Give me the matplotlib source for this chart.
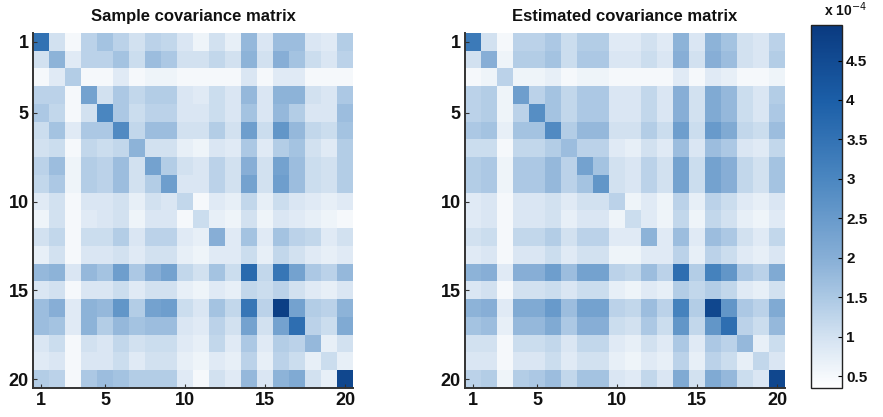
# SAMPLE vs ESTIMATED COVARIANCE MATRIX
# -------------------------------------------------------------------------

import numpy as np
import matplotlib
matplotlib.use('Agg')
import matplotlib.pyplot as plt
from matplotlib.colors import LinearSegmentedColormap


# DATA (values in units of 1e-4)
# -------------------------------------------------------------------------

sample_cov = [
    [3.5, 1.0, 0.5, 1.3, 1.6, 1.3, 1.0, 1.3, 1.2, 0.9, 0.6, 1.0, 0.7, 1.8, 0.9, 1.7, 1.7, 0.9, 0.8, 1.4],
    [1.0, 1.9, 0.8, 1.3, 1.3, 1.6, 1.1, 1.7, 1.5, 1.0, 1.0, 1.2, 1.0, 1.9, 1.0, 2.0, 1.6, 1.1, 0.9, 1.3],
    [0.5, 0.8, 1.4, 0.5, 0.5, 0.8, 0.5, 0.6, 0.6, 0.5, 0.5, 0.5, 0.5, 0.9, 0.5, 0.8, 0.8, 0.5, 0.5, 0.5],
    [1.3, 1.3, 0.5, 2.3, 1.0, 1.5, 1.2, 1.4, 1.4, 0.9, 0.8, 1.1, 0.9, 1.8, 0.9, 1.9, 1.9, 1.0, 0.9, 1.5],
    [1.5, 1.2, 0.5, 1.0, 3.0, 1.5, 1.1, 1.3, 1.3, 0.9, 0.9, 1.1, 0.9, 1.6, 0.9, 1.8, 1.4, 0.9, 0.9, 1.7],
    [1.1, 1.6, 0.8, 1.5, 1.5, 2.9, 1.2, 1.7, 1.7, 1.0, 1.0, 1.4, 1.0, 2.4, 1.1, 2.6, 1.8, 1.2, 1.1, 1.6],
    [1.0, 1.1, 0.5, 1.2, 1.1, 1.2, 1.9, 1.0, 1.0, 0.7, 0.6, 0.9, 0.8, 1.5, 0.8, 1.4, 1.6, 1.0, 0.8, 1.4],
    [1.3, 1.7, 0.6, 1.4, 1.3, 1.7, 1.0, 2.3, 1.4, 1.0, 0.9, 1.3, 1.0, 2.0, 1.0, 2.3, 1.7, 1.1, 1.0, 1.4],
    [1.2, 1.5, 0.6, 1.4, 1.3, 1.7, 1.0, 1.4, 2.4, 0.9, 0.9, 1.3, 1.0, 2.3, 1.0, 2.4, 1.7, 1.1, 1.0, 1.4],
    [0.8, 1.0, 0.5, 0.9, 0.9, 1.0, 0.7, 1.0, 0.9, 1.2, 0.5, 0.8, 0.7, 1.2, 0.7, 1.1, 0.9, 0.8, 0.7, 0.8],
    [0.6, 1.0, 0.5, 0.8, 0.9, 1.0, 0.6, 0.9, 0.9, 0.5, 1.1, 0.7, 0.6, 1.0, 0.6, 0.9, 0.8, 0.7, 0.6, 0.5],
    [1.0, 1.2, 0.5, 1.1, 1.1, 1.4, 0.9, 1.3, 1.3, 0.8, 0.7, 2.0, 0.8, 1.6, 0.8, 1.6, 1.3, 1.2, 0.8, 1.0],
    [0.7, 1.0, 0.5, 0.9, 0.9, 1.0, 0.8, 1.0, 1.0, 0.7, 0.6, 0.8, 0.8, 1.1, 0.7, 1.2, 1.0, 0.8, 0.7, 0.8],
    [1.8, 1.9, 0.9, 1.8, 1.6, 2.4, 1.5, 2.0, 2.3, 1.2, 1.0, 1.6, 1.1, 3.7, 1.2, 3.4, 2.3, 1.5, 1.3, 1.8],
    [0.9, 1.0, 0.5, 0.9, 0.9, 1.1, 0.8, 1.0, 1.0, 0.7, 0.6, 0.8, 0.7, 1.2, 1.1, 1.3, 1.0, 0.8, 0.7, 0.9],
    [1.7, 2.0, 0.8, 1.9, 1.8, 2.6, 1.4, 2.3, 2.4, 1.1, 0.9, 1.6, 1.2, 3.4, 1.3, 4.8, 2.3, 1.4, 1.3, 1.9],
    [1.7, 1.6, 0.8, 1.9, 1.4, 1.8, 1.6, 1.7, 1.7, 0.9, 0.8, 1.3, 1.0, 2.3, 1.0, 2.3, 3.6, 1.3, 1.1, 2.1],
    [0.9, 1.1, 0.5, 1.0, 0.9, 1.2, 1.0, 1.1, 1.1, 0.8, 0.7, 1.2, 0.8, 1.5, 0.8, 1.4, 1.3, 1.8, 0.7, 1.0],
    [0.8, 0.9, 0.5, 0.9, 0.9, 1.1, 0.8, 1.0, 1.0, 0.7, 0.6, 0.8, 0.7, 1.3, 0.7, 1.3, 1.1, 0.7, 1.1, 0.7],
    [1.4, 1.3, 0.5, 1.5, 1.7, 1.6, 1.4, 1.4, 1.4, 0.8, 0.5, 1.0, 0.8, 1.8, 0.9, 1.9, 2.1, 1.0, 0.7, 4.6],
]

estimated_cov = [
    [3.3, 1.0, 0.5, 1.3, 1.3, 1.5, 1.1, 1.4, 1.4, 0.8, 0.8, 1.0, 0.8, 1.9, 0.9, 1.9, 1.6, 1.0, 0.9, 1.3],
    [1.0, 2.0, 0.6, 1.4, 1.4, 1.6, 1.1, 1.5, 1.5, 0.9, 0.9, 1.1, 0.9, 2.0, 1.0, 2.0, 1.7, 1.0, 0.9, 1.4],
    [0.5, 0.6, 1.3, 0.6, 0.6, 0.7, 0.5, 0.6, 0.6, 0.5, 0.5, 0.5, 0.5, 0.8, 0.5, 0.8, 0.7, 0.5, 0.5, 0.6],
    [1.3, 1.4, 0.6, 2.4, 1.3, 1.6, 1.2, 1.5, 1.5, 0.9, 0.9, 1.2, 0.9, 2.0, 1.0, 2.1, 1.8, 1.1, 0.9, 1.4],
    [1.3, 1.4, 0.6, 1.3, 2.8, 1.6, 1.2, 1.5, 1.5, 0.9, 0.9, 1.2, 0.9, 2.0, 1.0, 2.1, 1.8, 1.1, 0.9, 1.5],
    [1.5, 1.6, 0.7, 1.6, 1.6, 2.9, 1.4, 1.8, 1.8, 1.0, 1.0, 1.4, 1.1, 2.4, 1.1, 2.5, 2.1, 1.2, 1.1, 1.7],
    [1.1, 1.1, 0.5, 1.2, 1.2, 1.4, 1.7, 1.3, 1.3, 0.8, 0.7, 1.0, 0.8, 1.7, 0.9, 1.7, 1.5, 0.9, 0.8, 1.2],
    [1.4, 1.5, 0.6, 1.5, 1.5, 1.8, 1.3, 2.3, 1.6, 1.0, 0.9, 1.3, 1.0, 2.3, 1.1, 2.3, 2.0, 1.2, 1.0, 1.6],
    [1.4, 1.5, 0.6, 1.5, 1.5, 1.8, 1.3, 1.6, 2.6, 1.0, 0.9, 1.3, 1.0, 2.3, 1.1, 2.3, 2.0, 1.2, 1.0, 1.6],
    [0.8, 0.9, 0.5, 0.9, 0.9, 1.0, 0.8, 1.0, 1.0, 1.3, 0.6, 0.8, 0.6, 1.3, 0.7, 1.3, 1.1, 0.8, 0.7, 0.9],
    [0.8, 0.9, 0.5, 0.9, 0.9, 1.0, 0.7, 0.9, 0.9, 0.6, 1.1, 0.8, 0.6, 1.2, 0.6, 1.2, 1.0, 0.7, 0.6, 0.8],
    [1.0, 1.1, 0.5, 1.2, 1.2, 1.4, 1.0, 1.3, 1.3, 0.8, 0.8, 1.9, 0.8, 1.7, 0.8, 1.7, 1.5, 1.0, 0.8, 1.2],
    [0.8, 0.9, 0.5, 0.9, 0.9, 1.1, 0.8, 1.0, 1.0, 0.6, 0.6, 0.8, 0.8, 1.3, 0.7, 1.3, 1.1, 0.8, 0.7, 0.9],
    [1.9, 2.0, 0.8, 2.0, 2.0, 2.4, 1.7, 2.3, 2.3, 1.3, 1.2, 1.7, 1.3, 3.6, 1.4, 3.1, 2.6, 1.5, 1.3, 2.1],
    [0.9, 1.0, 0.5, 1.0, 1.0, 1.1, 0.9, 1.1, 1.1, 0.7, 0.6, 0.8, 0.7, 1.4, 1.2, 1.4, 1.2, 0.8, 0.7, 1.0],
    [1.9, 2.0, 0.8, 2.1, 2.1, 2.5, 1.7, 2.3, 2.3, 1.3, 1.2, 1.7, 1.3, 3.1, 1.4, 4.6, 2.6, 1.5, 1.3, 2.1],
    [1.6, 1.7, 0.7, 1.8, 1.8, 2.1, 1.5, 2.0, 2.0, 1.1, 1.0, 1.5, 1.1, 2.6, 1.2, 2.6, 3.6, 1.3, 1.1, 1.8],
    [1.0, 1.0, 0.5, 1.1, 1.1, 1.2, 0.9, 1.2, 1.2, 0.8, 0.7, 1.0, 0.8, 1.5, 0.8, 1.5, 1.3, 1.8, 0.7, 1.1],
    [0.9, 0.9, 0.5, 0.9, 0.9, 1.1, 0.8, 1.0, 1.0, 0.7, 0.6, 0.8, 0.7, 1.3, 0.7, 1.3, 1.1, 0.7, 1.2, 0.9],
    [1.3, 1.4, 0.6, 1.4, 1.5, 1.7, 1.2, 1.6, 1.6, 0.9, 0.8, 1.2, 0.9, 2.1, 1.0, 2.1, 1.8, 1.1, 0.9, 4.6],
]

axis_ticks = [1, 5, 10, 15, 20]
cbar_ticks = [0.5, 1, 1.5, 2, 2.5, 3, 3.5, 4, 4.5]
cbar_labels = ['0.5', '1', '1.5', '2', '2.5', '3', '3.5', '4', '4.5']
titles = ['Sample covariance matrix', 'Estimated covariance matrix']


# STYLE
# -------------------------------------------------------------------------

font_fam = ['Liberation Sans Narrow', 'Liberation Sans', 'DejaVu Sans']
plt.rcParams['font.family'] = font_fam

# white -> light blue -> deep navy
cov_cmap = LinearSegmentedColormap.from_list('cov_blues', [
    (0.0,  '#ffffff'),
    (0.14, '#d3e2f1'),
    (0.25, '#abc8e4'),
    (0.36, '#86aed6'),
    (0.58, '#4a86c0'),
    (0.79, '#1c5fa8'),
    (1.0,  '#0a3a80'),
])
vmin, vmax = 0.35, 4.95
spine_color = '#333333'


# FIGURE & LAYOUT
# -------------------------------------------------------------------------

fig = plt.figure(figsize=(8.83, 4.17), dpi=100, facecolor='white')

ax_l = fig.add_axes([0.0374, 0.0695, 0.3624, 0.8513])
ax_r = fig.add_axes([0.5266, 0.0695, 0.3624, 0.8513])
cax  = fig.add_axes([0.9185, 0.0695, 0.0351, 0.8705])


def draw_matrix(ax, mat, title):
    im = ax.imshow(np.array(mat), cmap=cov_cmap, vmin=vmin, vmax=vmax,
                   aspect='auto', interpolation='nearest',
                   extent=(0.5, 20.5, 20.5, 0.5))
    ax.set_xticks(axis_ticks)
    ax.set_yticks(axis_ticks)
    ax.set_xticklabels([str(t) for t in axis_ticks])
    ax.set_yticklabels([str(t) for t in axis_ticks])
    ax.tick_params(direction='in', length=3, width=0.8, colors=spine_color,
                   labelsize=13, labelcolor='#111111', pad=3)
    for lab in ax.get_xticklabels() + ax.get_yticklabels():
        lab.set_fontweight('bold')
    for s in ['top', 'right']:
        ax.spines[s].set_visible(False)
    for s in ['left', 'bottom']:
        ax.spines[s].set_color(spine_color)
        ax.spines[s].set_linewidth(1.4)
    ax.set_title(title, fontsize=12, fontweight='bold', color='#111111', pad=9)
    return im


draw_matrix(ax_l, sample_cov, titles[0])
im = draw_matrix(ax_r, estimated_cov, titles[1])


# COLORBAR
# -------------------------------------------------------------------------

cb = fig.colorbar(im, cax=cax)
cb.set_ticks(cbar_ticks)
cb.set_ticklabels(cbar_labels)
cb.outline.set_edgecolor('#222222')
cb.outline.set_linewidth(1.0)
cax.tick_params(direction='in', length=3, width=0.8, labelsize=11,
                labelcolor='#111111', pad=3)
for lab in cax.get_yticklabels():
    lab.set_fontweight('bold')

fig.text(0.933, 0.955, r'x 10$^{-4}$', fontsize=10, fontweight='bold',
         color='#111111', ha='left', va='bottom')


# SAVE
# -------------------------------------------------------------------------

plt.savefig('out.png', dpi=100, facecolor='white')
